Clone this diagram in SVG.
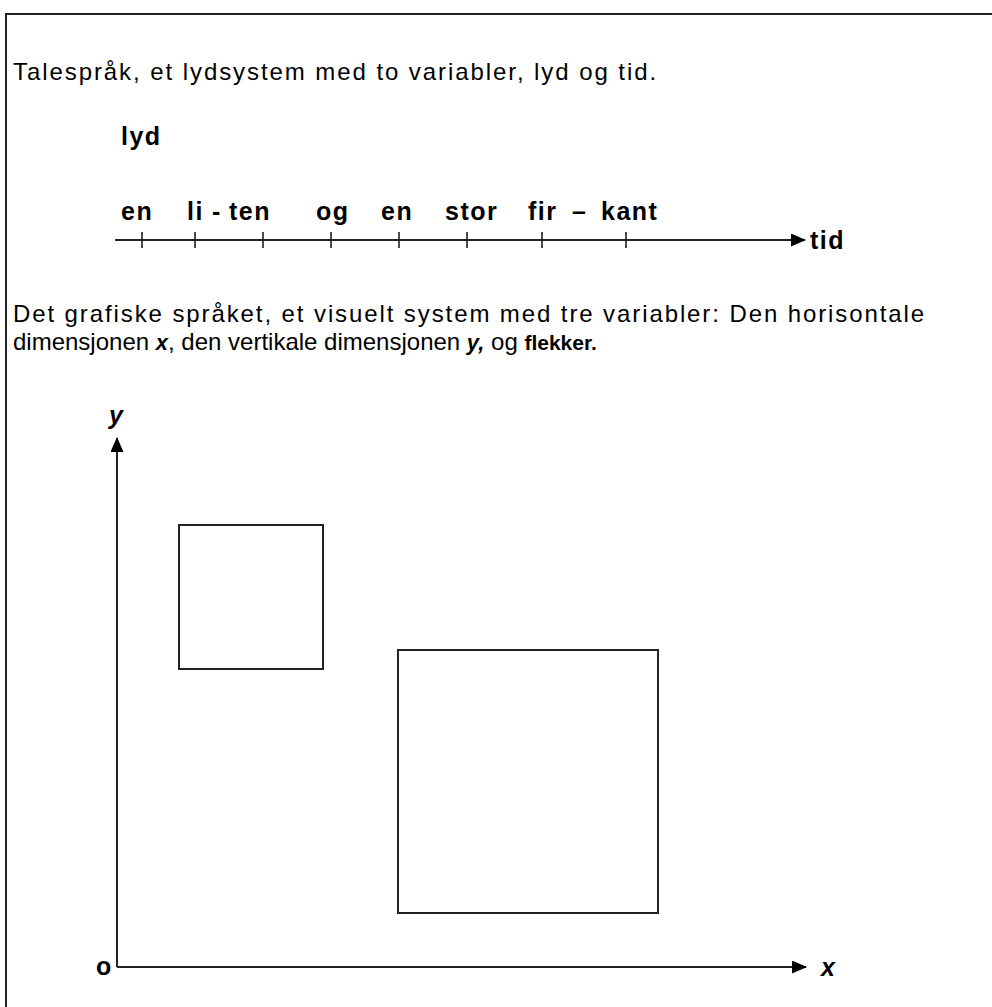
<svg xmlns="http://www.w3.org/2000/svg" width="992" height="1007" viewBox="0 0 992 1007">
  <style>
    .t { font-family: "Liberation Sans", Arial, sans-serif; font-size: 24px; letter-spacing: 0.9px; fill: #000; }
    .b { font-family: "Liberation Sans", Arial, sans-serif; font-size: 25px; font-weight: bold; letter-spacing: 1.5px; fill: #000; }
    .bi { font-family: "Liberation Sans", Arial, sans-serif; font-size: 25px; font-weight: bold; font-style: italic; fill: #000; }
    .ln { stroke: #222; stroke-width: 2; fill: none; }
    .tk { stroke: #111; stroke-width: 1.5; }
  </style>
  <defs>
    <marker id="arrow" markerWidth="15" markerHeight="13" refX="14" refY="6.5" orient="auto" markerUnits="userSpaceOnUse">
      <path d="M0,0 L15,6.5 L0,13 Z" fill="#000"/>
    </marker>
  </defs>
  <rect width="992" height="1007" fill="#fff"/>
  <!-- outer frame: top and left edges -->
  <path d="M6,1007 V14 H992" class="ln" stroke="#444"/>

  <!-- spoken language: one variable in time -->
  <text class="t" x="13" y="80" textLength="644" lengthAdjust="spacing">Talespråk, et lydsystem med to variabler, lyd og tid.</text>
  <text class="b" x="121" y="145">lyd</text>
  <g id="words" class="b">
    <text x="121" y="220">en</text>
    <text x="187" y="220">li</text>
    <text x="212" y="220">-</text>
    <text x="229" y="220">ten</text>
    <text x="316" y="220">og</text>
    <text x="381" y="220">en</text>
    <text x="445" y="220">stor</text>
    <text x="528" y="220">fir</text>
    <text x="572" y="220">–</text>
    <text x="601" y="220">kant</text>
  </g>
  <g id="timeline">
    <line x1="115" y1="240" x2="805" y2="240" class="ln" marker-end="url(#arrow)"/>
    <g class="tk">
      <line x1="142" y1="232" x2="142" y2="248"/>
      <line x1="195" y1="232" x2="195" y2="248"/>
      <line x1="263" y1="232" x2="263" y2="248"/>
      <line x1="331" y1="232" x2="331" y2="248"/>
      <line x1="399" y1="232" x2="399" y2="248"/>
      <line x1="467" y1="232" x2="467" y2="248"/>
      <line x1="542" y1="232" x2="542" y2="248"/>
      <line x1="626" y1="232" x2="626" y2="248"/>
    </g>
    <text class="b" x="810" y="249">tid</text>
  </g>

  <!-- graphic language: x, y and marks -->
  <text class="t" x="13" y="322" textLength="912" lengthAdjust="spacing">Det grafiske språket, et visuelt system med tre variabler: Den horisontale</text>
  <text class="t" x="13" y="350" style="letter-spacing:0">dimensjonen <tspan class="bi" style="font-size:22px">x</tspan>, den vertikale dimensjonen <tspan class="bi" style="font-size:22px">y,</tspan> og <tspan class="b" style="font-size:21px;letter-spacing:0">flekker.</tspan></text>

  <g id="axes">
    <line x1="117" y1="967" x2="117" y2="438" class="ln" marker-end="url(#arrow)"/>
    <line x1="117" y1="967" x2="806" y2="967" class="ln" marker-end="url(#arrow)"/>
  </g>
  <text class="bi" x="109" y="424">y</text>
  <text class="b" x="96" y="975">o</text>
  <text class="bi" x="821" y="976">x</text>

  <g id="small-square">
    <rect x="179" y="525" width="144" height="144" class="ln"/>
  </g>
  <g id="large-square">
    <rect x="398" y="650" width="260" height="263" class="ln"/>
  </g>
</svg>
